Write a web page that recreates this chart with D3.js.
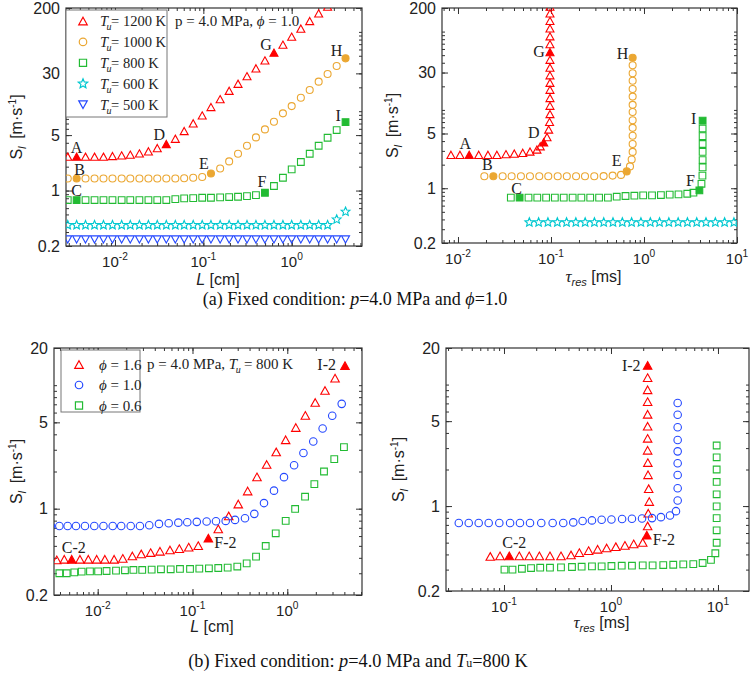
<!DOCTYPE html>
<html>
<head>
<meta charset="utf-8">
<script src="https://cdn.jsdelivr.net/npm/d3@7"></script>
<style>
body { margin: 0; background: #fff; }
svg { display: block; }
</style>
</head>
<body>
<div id="chart"></div>
<script>
// ---------- data: (a) p = 4.0 MPa, phi = 1.0 ----------
// flame length L [cm] (shared grid of the Tu series)
const lenA = [0.00231, 0.00292, 0.00368, 0.00464, 0.00587, 0.00741, 0.00937, 0.0119, 0.0149, 0.0189,
  0.0239, 0.0301, 0.0381, 0.0482, 0.0607, 0.0768, 0.0971, 0.122, 0.155, 0.196, 0.247, 0.312, 0.394,
  0.498, 0.630, 0.796, 1.00, 1.27, 1.60, 2.02, 2.55, 3.23, 4.07];

const sl1200 = [2.67, 2.67, 2.67, 2.67, 2.67, 2.67, 2.72, 2.77, 2.83, 2.94, 3.12, 3.43, 3.86, 4.50, 5.62,
  7.03, 8.85, 11.3, 14.2, 18.1, 22.2, 27.7, 34.7, 43.7, 54.7, 69.0, 87.1, 110, 137, 171, 208];
const tau1200 = [0.0084, 0.0105, 0.0132, 0.0167, 0.0210, 0.0262, 0.0328, 0.0403, 0.0497, 0.0595, 0.0706,
  0.0767, 0.0835, 0.0906, 0.0944, 0.0965, 0.0975, 0.0975, 0.0975, 0.0975, 0.0975, 0.0975, 0.0975, 0.0975,
  0.0975, 0.0975, 0.0975, 0.0975, 0.0975, 0.0975, 0.0975];

const sl1000 = [1.42, 1.42, 1.42, 1.42, 1.42, 1.42, 1.42, 1.42, 1.42, 1.42, 1.42, 1.42, 1.42, 1.43, 1.45,
  1.48, 1.64, 1.90, 2.33, 2.91, 3.67, 4.68, 5.90, 7.38, 9.40, 11.6, 14.8, 18.5, 23.6, 29.4, 37.2, 46.4];
const tau1000 = [0.0192, 0.0240, 0.0302, 0.0377, 0.0475, 0.0594, 0.0748, 0.0935, 0.118, 0.148, 0.186,
  0.232, 0.292, 0.368, 0.460, 0.566, 0.652, 0.707, 0.737, 0.755, 0.755, 0.755, 0.755, 0.755, 0.755,
  0.755, 0.755, 0.755, 0.755, 0.755, 0.755, 0.755];

const sl800 = [0.759, 0.759, 0.759, 0.759, 0.759, 0.759, 0.759, 0.759, 0.759, 0.759, 0.759, 0.759, 0.780,
  0.796, 0.803, 0.811, 0.811, 0.819, 0.828, 0.836, 0.851, 0.877, 0.938, 1.14, 1.45, 1.85, 2.29, 2.91,
  3.67, 4.63, 5.79, 7.30];
const tau800 = [0.037, 0.046, 0.0573, 0.0712, 0.0886, 0.110, 0.137, 0.171, 0.212, 0.264, 0.329, 0.409,
  0.509, 0.633, 0.788, 0.98, 1.22, 1.52, 1.89, 2.35, 2.92, 3.40, 3.94, 4.15, 4.25, 4.27, 4.27, 4.27,
  4.27, 4.27, 4.27, 4.27];

const sl600 = [0.367, 0.367, 0.367, 0.367, 0.367, 0.367, 0.367, 0.367, 0.367, 0.367, 0.367, 0.367, 0.367,
  0.367, 0.367, 0.367, 0.367, 0.367, 0.367, 0.367, 0.367, 0.367, 0.367, 0.367, 0.367, 0.367, 0.367,
  0.367, 0.367, 0.367, 0.432, 0.541];
const tau600 = [0.0585, 0.0736, 0.0927, 0.117, 0.147, 0.185, 0.233, 0.293, 0.369, 0.464, 0.585, 0.736,
  0.927, 1.17, 1.47, 1.85, 2.33, 2.93, 3.69, 4.64, 5.85, 7.36, 9.27];

const sl500 = [0.242, 0.242, 0.242, 0.242, 0.242, 0.242, 0.242, 0.242, 0.242, 0.242, 0.242, 0.242, 0.242,
  0.242, 0.242, 0.242, 0.242, 0.242, 0.242, 0.242, 0.242, 0.242, 0.242, 0.242, 0.242, 0.242, 0.242,
  0.242, 0.242, 0.242, 0.242, 0.242];

// ---------- data: (b) p = 4.0 MPa, Tu = 800 K ----------
const lenP16 = [0.0037, 0.00444, 0.00532, 0.0065, 0.00796, 0.00976, 0.0119, 0.0149, 0.0184, 0.0232, 0.0288,
  0.0362, 0.0454, 0.0579, 0.0726, 0.0912, 0.115, 0.147, 0.187, 0.241, 0.304, 0.382, 0.479, 0.606, 0.764,
  0.961, 1.23, 1.55, 1.97, 2.50, 3.19, 4.06];
const slP16 = [0.385, 0.389, 0.389, 0.389, 0.389, 0.389, 0.389, 0.389, 0.396, 0.414, 0.430, 0.441, 0.452,
  0.463, 0.475, 0.488, 0.502, 0.577, 0.686, 0.873, 1.09, 1.39, 1.81, 2.28, 2.88, 3.61, 4.54, 5.69, 7.24,
  9.06, 11.4, 14.4];
const tauP16 = [0.0744, 0.0918, 0.112, 0.139, 0.172, 0.214, 0.269, 0.341, 0.423, 0.506, 0.618, 0.750,
  0.911, 1.11, 1.35, 1.63, 1.98, 2.16, 2.20, 2.23, 2.28, 2.25, 2.22, 2.21, 2.20, 2.20, 2.20, 2.20, 2.20,
  2.20, 2.20, 2.20];

const lenP10 = [0.0032, 0.00394, 0.00482, 0.0059, 0.00734, 0.00921, 0.0115, 0.0144, 0.0177, 0.0223, 0.0279,
  0.035, 0.0443, 0.0561, 0.0709, 0.0881, 0.111, 0.141, 0.177, 0.224, 0.281, 0.358, 0.449, 0.568, 0.724,
  0.923, 1.18, 1.48, 1.88, 2.36, 2.98, 3.75];
const slP10 = [0.725, 0.725, 0.725, 0.725, 0.725, 0.725, 0.725, 0.725, 0.725, 0.725, 0.725, 0.734, 0.753,
  0.762, 0.771, 0.776, 0.782, 0.787, 0.791, 0.796, 0.811, 0.837, 0.908, 1.11, 1.40, 1.80, 2.25, 2.82,
  3.50, 4.46, 5.65, 7.06];
const tauP10 = [0.0378, 0.0468, 0.058, 0.0719, 0.0904, 0.114, 0.141, 0.175, 0.223, 0.285, 0.358, 0.444,
  0.543, 0.664, 0.818, 1.01, 1.27, 1.57, 1.95, 2.42, 2.93, 3.56, 4.05, 4.2, 4.2, 4.2, 4.2, 4.2, 4.2, 4.2,
  4.2, 4.2];

const lenP06 = [0.00394, 0.00471, 0.00567, 0.00678, 0.00829, 0.0101, 0.0124, 0.0156, 0.0194, 0.0238,
  0.0295, 0.0371, 0.0465, 0.0589, 0.0738, 0.0942, 0.118, 0.149, 0.187, 0.235, 0.297, 0.373, 0.468, 0.592,
  0.755, 0.962, 1.21, 1.54, 1.93, 2.44, 3.13, 3.96];
const slP06 = [0.300, 0.300, 0.305, 0.309, 0.311, 0.311, 0.313, 0.315, 0.317, 0.319, 0.319, 0.321, 0.323,
  0.323, 0.325, 0.325, 0.327, 0.329, 0.331, 0.333, 0.340, 0.361, 0.409, 0.499, 0.632, 0.796, 0.995, 1.25,
  1.58, 2.00, 2.52, 3.15];
const tauP06 = [0.101, 0.120, 0.147, 0.179, 0.218, 0.269, 0.341, 0.432, 0.532, 0.664, 0.818, 1.01, 1.26,
  1.57, 1.98, 2.45, 3.08, 3.82, 4.74, 5.88, 7.19, 8.60, 9.45, 9.72, 9.72, 9.72, 9.72, 9.72, 9.72, 9.72,
  9.72, 9.72];

const yTicksA = [0.2, 1, 5, 30, 200];
const yTicksB = [0.2, 1, 5, 20];

// labelled (filled) points: [series key, point index, text]
const marksA = [["1200", 2, "A"], ["1000", 1, "B"], ["800", 1, "C"], ["1200", 12, "D"], ["1000", 16, "E"],
  ["800", 22, "F"], ["1200", 24, "G"], ["1000", 31, "H"], ["800", 31, "I"]];

// ---------- styles ----------
const RED = "#ff0000", ORANGE = "#eba732", GREEN = "#22bb33", CYAN = "#00c8d0", BLUE = "#2448ff";
const SANS = "Liberation Sans, Arial, sans-serif";
const SERIF = "Liberation Serif, Times New Roman, serif";

const W = 752, H = 682;
const svg = d3.select("#chart").append("svg").attr("width", W).attr("height", H);

// marker shapes centred on their bounding box (like Origin)
function shape(kind, s) {
  if (kind === "up") { const h = s * 0.9; return `M0,${-h/2}L${s/2},${h/2}L${-s/2},${h/2}Z`; }
  if (kind === "down") { const h = s * 0.9; return `M0,${h/2}L${s/2},${-h/2}L${-s/2},${-h/2}Z`; }
  if (kind === "square") { const a = s * 0.42; return `M${-a},${-a}H${a}V${a}H${-a}Z`; }
  if (kind === "circle") { const r = s / 2; return `M${r},0A${r},${r} 0 1,1 ${-r},0A${r},${r} 0 1,1 ${r},0Z`; }
  if (kind === "star") {
    const R = s * 0.58, r = R * 0.45; let d = "";
    for (let i = 0; i < 10; i++) {
      const a = -Math.PI / 2 + i * Math.PI / 5, rr = i % 2 ? r : R;
      d += (i ? "L" : "M") + (rr * Math.cos(a)).toFixed(2) + "," + (rr * Math.sin(a)).toFixed(2);
    }
    return d + "Z";
  }
}

function supLabel(sel, base, exp, size) {
  sel.append("tspan").text(base);
  sel.append("tspan").attr("dy", -size * 0.45).attr("font-size", size * 0.68).text(exp);
}

function drawPanel(p) {
  const x = d3.scaleLog().domain(p.xDomain).range(p.xRange);
  const y = d3.scaleLog().domain(p.yDomain).range(p.yRange);
  const [x0, x1] = p.xRange, [y0, y1] = p.yRange;
  const g = svg.append("g");

  const clipId = "clip-" + p.name;
  svg.append("clipPath").attr("id", clipId).append("rect")
    .attr("x", x0).attr("y", y1).attr("width", x1 - x0).attr("height", y0 - y1);

  // ticks on four sides, pointing inward
  const xMajor = x.ticks().filter(v => Math.abs(Math.log10(v) - Math.round(Math.log10(v))) < 1e-6);
  const xMinor = x.ticks();
  const yMinor = y.ticks();
  const tickCol = "#333";
  const axes = [
    [d3.axisBottom(x).tickValues(xMinor).tickSize(-3), `translate(0,${y0})`],
    [d3.axisBottom(x).tickValues(xMajor).tickSize(-6), `translate(0,${y0})`],
    [d3.axisTop(x).tickValues(xMinor).tickSize(-3), `translate(0,${y1})`],
    [d3.axisTop(x).tickValues(xMajor).tickSize(-6), `translate(0,${y1})`],
    [d3.axisLeft(y).tickValues(yMinor).tickSize(-3), `translate(${x0},0)`],
    [d3.axisLeft(y).tickValues(p.yTicks).tickSize(-6), `translate(${x0},0)`],
    [d3.axisRight(y).tickValues(yMinor).tickSize(-3), `translate(${x1},0)`],
    [d3.axisRight(y).tickValues(p.yTicks).tickSize(-6), `translate(${x1},0)`]
  ];
  axes.forEach(([ax, tr]) => {
    g.append("g").attr("transform", tr).call(ax.tickFormat(""))
      .call(a => a.select(".domain").remove())
      .call(a => a.selectAll("line").attr("stroke", tickCol).attr("stroke-width", 1));
  });
  g.append("rect").attr("x", x0).attr("y", y1).attr("width", x1 - x0).attr("height", y0 - y1)
    .attr("fill", "none").attr("stroke", tickCol).attr("stroke-width", 1.2);

  // tick labels
  g.selectAll(".ylab").data(p.yTicks).join("text")
    .attr("x", x0 - 6).attr("y", d => y(d) + 5.5)
    .attr("text-anchor", "end").attr("font-family", SANS).attr("font-size", 16).attr("fill", "#222")
    .text(d => d);
  xMajor.forEach(v => {
    const t = g.append("text").attr("x", x(v)).attr("y", y0 + 21)
      .attr("text-anchor", "middle").attr("font-family", SANS).attr("font-size", 15).attr("fill", "#222");
    supLabel(t, "10", String(Math.round(Math.log10(v))), 15);
  });

  // axis titles
  const yl = g.append("text").attr("transform", `translate(${p.yTitleX},${(y0 + y1) / 2}) rotate(-90)`)
    .attr("text-anchor", "middle").attr("font-family", SANS).attr("font-size", 16).attr("fill", "#222");
  yl.append("tspan").text("S");
  yl.append("tspan").attr("font-size", 11).attr("font-style", "italic").attr("dy", 4).text("l");
  yl.append("tspan").attr("dy", -4).text("\u2009 [m·s");
  yl.append("tspan").attr("font-size", 10).attr("dy", -6).text("-1");
  yl.append("tspan").attr("dy", 6).text("]");

  const xl = g.append("text").attr("x", (x0 + x1) / 2 + 4).attr("y", y0 + p.xTitleDy)
    .attr("text-anchor", "middle").attr("font-family", SANS).attr("font-size", 16).attr("fill", "#222");
  if (p.xKind === "L") {
    xl.append("tspan").attr("font-style", "italic").text("L");
    xl.append("tspan").text(" [cm]");
  } else {
    xl.append("tspan").attr("font-style", "italic").attr("font-family", SERIF).attr("font-size", 17).text("τ");
    xl.append("tspan").attr("font-style", "italic").attr("font-size", 11).attr("dy", 4).text("res");
    xl.append("tspan").attr("dy", -4).text(" [ms]");
  }

  // data markers
  const plot = g.append("g").attr("clip-path", `url(#${clipId})`);
  p.series.forEach(s => {
    const pts = s.xs.map((xv, i) => ({ x: xv, y: s.ys[i], i }));
    plot.selectAll(null).data(pts).join("path")
      .attr("d", shape(s.shape, s.size))
      .attr("transform", d => `translate(${x(d.x)},${y(d.y)})`)
      .attr("fill", d => (s.filled || []).includes(d.i) ? s.color : "none")
      .attr("stroke", s.color).attr("stroke-width", 1.1);
  });

  // point labels
  p.labels.forEach(l => {
    const s = p.series.find(q => q.key === l.key);
    const px = x(s.xs[l.i]), py = y(s.ys[l.i]);
    g.append("text").attr("x", px + l.dx).attr("y", py + l.dy)
      .attr("text-anchor", l.anchor || "middle").attr("font-family", SERIF).attr("font-size", 16)
      .attr("fill", "#222").text(l.text);
  });

  return { x, y, g };
}

function richText(sel, parts, subSize) {
  parts.forEach(([t, st]) => {
    const ts = sel.append("tspan").text(t);
    if (st === "i") ts.attr("font-style", "italic");
    if (st === "sub") ts.attr("font-style", "italic").attr("font-size", subSize || 10).attr("dy", 4).attr("dx", -1.5);
    if (st === "after") ts.attr("dy", -4).attr("dx", -0.5);
  });
}

// ---------- panel (a) left ----------
const serA = [
  { key: "1200", xs: lenA.slice(0, sl1200.length), ys: sl1200, shape: "up", color: RED, size: 8, filled: [2, 12, 24] },
  { key: "1000", xs: lenA.slice(1), ys: sl1000, shape: "circle", color: ORANGE, size: 7, filled: [1, 16, 31] },
  { key: "800", xs: lenA.slice(1), ys: sl800, shape: "square", color: GREEN, size: 8, filled: [1, 22, 31] },
  { key: "600", xs: lenA.slice(1), ys: sl600, shape: "star", color: CYAN, size: 8 },
  { key: "500", xs: lenA.slice(1), ys: sl500, shape: "down", color: BLUE, size: 8 }
];
const offA1 = { A: [0, -4], B: [3, -3], C: [0, -4], D: [-7, -4], E: [-7, -5], F: [-3, -6], G: [-8, -3], H: [-9, -2.5], I: [-7.5, -1.5] };
drawPanel({
  name: "a1", xDomain: [0.00279, 6.25], xRange: [66, 362], yDomain: [0.2, 200], yRange: [246, 8],
  yTicks: yTicksA, xKind: "L", yTitleX: 22, xTitleDy: 39, series: serA,
  labels: marksA.map(([k, i, t]) => ({ key: k, i, text: t, dx: offA1[t][0], dy: offA1[t][1] }))
});

// legend (a)
const legA = svg.append("g");
legA.append("rect").attr("x", 66).attr("y", 10).attr("width", 101).attr("height", 107)
  .attr("fill", "#fff").attr("stroke", "#777").attr("stroke-width", 1);
[["1200 K", "up", RED], ["1000 K", "circle", ORANGE], ["800 K", "square", GREEN], ["600 K", "star", CYAN], ["500 K", "down", BLUE]]
  .forEach(([t, sh, c], i) => {
    const yy = 21 + i * 20.9;
    legA.append("path").attr("d", shape(sh, sh === "circle" ? 7.5 : 8.5)).attr("transform", `translate(83,${yy})`)
      .attr("fill", "none").attr("stroke", c).attr("stroke-width", 1.2);
    const tx = legA.append("text").attr("x", 100).attr("y", yy + 5).attr("font-family", SERIF).attr("font-size", 14.5).attr("fill", "#222");
    richText(tx, [["T", "i"], ["u", "sub"], ["= " + t, "after"]]);
  });
const condA = svg.append("text").attr("x", 175).attr("y", 26).attr("font-family", SERIF).attr("font-size", 15).attr("fill", "#222");
richText(condA, [["p = 4.0 MPa, ", ""], ["ϕ", "i"], [" = 1.0", ""]]);

// ---------- panel (a) right ----------
const serA2 = [
  { key: "1200", xs: tau1200, ys: sl1200, shape: "up", color: RED, size: 8, filled: [2, 12, 24] },
  { key: "1000", xs: tau1000, ys: sl1000, shape: "circle", color: ORANGE, size: 7, filled: [1, 16, 31] },
  { key: "800", xs: tau800, ys: sl800, shape: "square", color: GREEN, size: 8, filled: [1, 22, 31] },
  { key: "600", xs: tau600, ys: sl600.slice(0, tau600.length), shape: "star", color: CYAN, size: 8 }
];
const offA2 = { A: [-4, -6], B: [-6, -6], C: [-3, -4], D: [-10, -4], E: [-10, -5], F: [-9, -4], G: [-11, 5], H: [-10, 1], I: [-9, 3.5] };
drawPanel({
  name: "a2", xDomain: [0.00673, 10], xRange: [442, 737], yDomain: [0.2, 200], yRange: [243, 8],
  yTicks: yTicksA, xKind: "tau", yTitleX: 398, xTitleDy: 39, series: serA2,
  labels: marksA.map(([k, i, t]) => ({ key: k, i, text: t, dx: offA2[t][0], dy: offA2[t][1] }))
});

// ---------- panel (b) left ----------
const serB = [
  { key: "1.6", xs: lenP16, ys: slP16, shape: "up", color: RED, size: 8.5, filled: [2, 17, 31] },
  { key: "1.0", xs: lenP10, ys: slP10, shape: "circle", color: BLUE, size: 7.5 },
  { key: "0.6", xs: lenP06, ys: slP06, shape: "square", color: GREEN, size: 8 }
];
drawPanel({
  name: "b1", xDomain: [0.00346, 6.14], xRange: [54, 362], yDomain: [0.2, 20], yRange: [595, 348],
  yTicks: yTicksB, xKind: "L", yTitleX: 22, xTitleDy: 37, series: serB,
  labels: [
    { key: "1.6", i: 2, text: "C-2", dx: 2, dy: -6 },
    { key: "1.6", i: 17, text: "F-2", dx: 6, dy: 10, anchor: "start" },
    { key: "1.6", i: 31, text: "I-2", dx: -9, dy: 4, anchor: "end" }
  ]
});
const legB = svg.append("g");
legB.append("rect").attr("x", 61).attr("y", 350).attr("width", 79).attr("height", 62)
  .attr("fill", "#fff").attr("stroke", "#777").attr("stroke-width", 1);
[["1.6", "up", RED], ["1.0", "circle", BLUE], ["0.6", "square", GREEN]].forEach(([t, sh, c], i) => {
  const yy = 364.5 + i * 20.5;
  legB.append("path").attr("d", shape(sh, sh === "circle" ? 7.5 : 8.5)).attr("transform", `translate(79,${yy})`)
    .attr("fill", "none").attr("stroke", c).attr("stroke-width", 1.2);
  const tx = legB.append("text").attr("x", 99).attr("y", yy + 5).attr("font-family", SERIF).attr("font-size", 15).attr("fill", "#222");
  richText(tx, [["ϕ", "i"], [" = " + t, ""]]);
});
const condB = svg.append("text").attr("x", 147).attr("y", 369).attr("font-family", SERIF).attr("font-size", 15).attr("fill", "#222");
richText(condB, [["p = 4.0 MPa, ", ""], ["T", "i"], ["u", "sub"], [" = 800 K", "after"]]);

// ---------- panel (b) right ----------
const serB2 = [
  { key: "1.6", xs: tauP16, ys: slP16, shape: "up", color: RED, size: 8.5, filled: [2, 17, 31] },
  { key: "1.0", xs: tauP10, ys: slP10, shape: "circle", color: BLUE, size: 7.5 },
  { key: "0.6", xs: tauP06, ys: slP06, shape: "square", color: GREEN, size: 8 }
];
drawPanel({
  name: "b2", xDomain: [0.0287, 19.5], xRange: [446, 749], yDomain: [0.2, 20], yRange: [591, 348],
  yTicks: yTicksB, xKind: "tau", yTitleX: 404, xTitleDy: 37, series: serB2,
  labels: [
    { key: "1.6", i: 2, text: "C-2", dx: 5, dy: -8 },
    { key: "1.6", i: 17, text: "F-2", dx: 6, dy: 10, anchor: "start" },
    { key: "1.6", i: 31, text: "I-2", dx: -7, dy: 6, anchor: "end" }
  ]
});

// ---------- captions ----------
const capA = svg.append("text").attr("x", 355).attr("y", 305).attr("text-anchor", "middle")
  .attr("font-family", SERIF).attr("font-size", 18).attr("fill", "#111");
richText(capA, [["(a) Fixed condition: ", ""], ["p", "i"], ["=4.0 MPa and ", ""], ["ϕ", "i"], ["=1.0", ""]]);
const capB = svg.append("text").attr("x", 358).attr("y", 667).attr("text-anchor", "middle")
  .attr("font-family", SERIF).attr("font-size", 18.3).attr("fill", "#111");
capB.append("tspan").text("(b) Fixed condition: ");
capB.append("tspan").attr("font-style", "italic").text("p");
capB.append("tspan").text("=4.0 MPa and ");
capB.append("tspan").attr("font-style", "italic").text("T");
capB.append("tspan").attr("font-size", 12).text("u");
capB.append("tspan").text("=800 K");
</script>
</body>
</html>
